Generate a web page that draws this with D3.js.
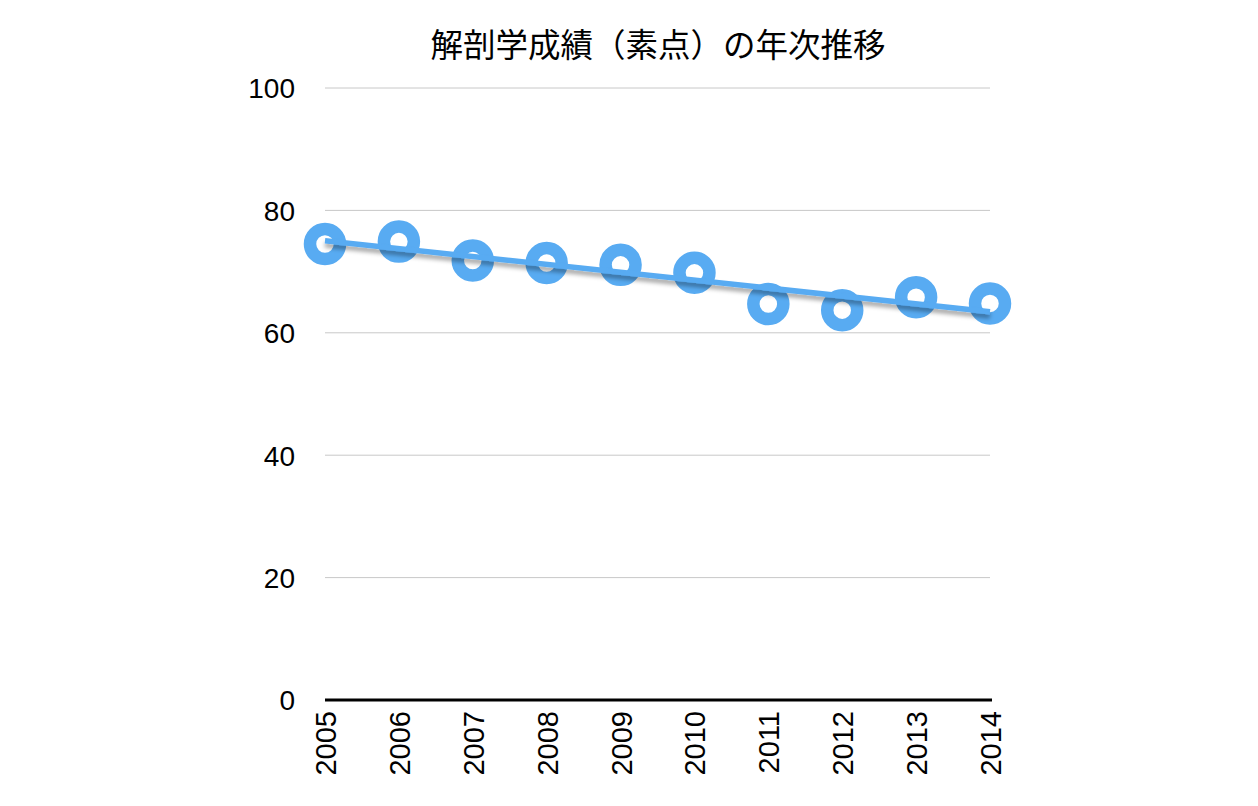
<!DOCTYPE html>
<html>
<head>
<meta charset="utf-8">
<script src="https://cdn.jsdelivr.net/npm/d3@7"></script>
<style>
  body { margin: 0; background: #fff; }
  svg text { fill: #000; }
</style>
</head>
<body>
<svg id="chart" width="1258" height="806"></svg>
<script>
// Data
const years = ["2005", "2006", "2007", "2008", "2009", "2010", "2011", "2012", "2013", "2014"];
const scores = [74.5, 74.9, 71.8, 71.4, 71.1, 69.8, 64.7, 63.7, 65.8, 64.8];
const yTicks = [0, 20, 40, 60, 80, 100];
const title = "解剖学成績（素点）の年次推移";

const svg = d3.select("#chart");
const blue = "#58abf2";

// Scales
const x = d3.scalePoint()
    .domain(years)
    .range([325, 990]);
const y = d3.scaleLinear()
    .domain([0, 100])
    .range([700, 88]);

// Shadow filter for the trendline
const defs = svg.append("defs");
const shadow = defs.append("filter")
    .attr("id", "shadow")
    .attr("x", "-10%").attr("y", "-50%")
    .attr("width", "120%").attr("height", "200%");
shadow.append("feDropShadow")
    .attr("dx", 0).attr("dy", 4)
    .attr("stdDeviation", 2)
    .attr("flood-color", "#000")
    .attr("flood-opacity", 0.35);

// Title
svg.append("text")
    .attr("x", 658)
    .attr("y", 42)
    .attr("text-anchor", "middle")
    .attr("dominant-baseline", "central")
    .style("font-family", "'Noto Sans CJK JP', sans-serif")
    .style("font-size", "32.5px")
    .text(title);

// Gridlines
svg.append("g")
    .selectAll("line")
    .data(yTicks.filter(d => d > 0))
    .enter()
    .append("line")
    .attr("x1", 325)
    .attr("x2", 990)
    .attr("y1", d => y(d))
    .attr("y2", d => y(d))
    .style("stroke", "#c8c8c8")
    .style("stroke-width", 1);

// Y axis labels
const yAxis = d3.axisLeft(y)
    .tickValues(yTicks)
    .tickSize(0)
    .tickPadding(0);
const yG = svg.append("g")
    .attr("transform", "translate(295,0)")
    .call(yAxis);
yG.select(".domain").remove();
yG.selectAll("text")
    .attr("dy", "0.35em")
    .style("font-family", "'Liberation Sans', Arial, sans-serif")
    .style("font-size", "28px")
    .style("fill", "#000");

// Baseline
svg.append("line")
    .attr("x1", 325)
    .attr("x2", 992)
    .attr("y1", y(0))
    .attr("y2", y(0))
    .style("stroke", "#000")
    .style("stroke-width", 3);

// X axis labels (rotated)
const xAxis = d3.axisBottom(x)
    .tickSize(0)
    .tickPadding(0);
const xG = svg.append("g")
    .attr("transform", `translate(0,${y(0)})`)
    .call(xAxis);
xG.select(".domain").remove();
xG.selectAll("text")
    .attr("transform", "rotate(-90)")
    .attr("x", -11)
    .attr("y", 0)
    .attr("dy", "0.36em")
    .attr("text-anchor", "end")
    .style("font-family", "'Liberation Sans', Arial, sans-serif")
    .style("font-size", "29px")
    .style("fill", "#000");

// Markers
svg.append("g")
    .selectAll("circle")
    .data(scores)
    .enter()
    .append("circle")
    .attr("cx", (d, i) => x(years[i]))
    .attr("cy", d => y(d))
    .attr("r", 15)
    .style("fill", "#fff")
    .style("stroke", blue)
    .style("stroke-width", 12.5);

// Linear trendline computed from the scores
const idx = d3.range(scores.length);
const mx = d3.mean(idx);
const my = d3.mean(scores);
const slope = d3.sum(idx, i => (i - mx) * (scores[i] - my)) / d3.sum(idx, i => (i - mx) * (i - mx));
const intercept = my - slope * mx;
const last = scores.length - 1;

svg.append("line")
    .attr("x1", x(years[0]))
    .attr("y1", y(intercept))
    .attr("x2", x(years[last]))
    .attr("y2", y(intercept + slope * last))
    .attr("filter", "url(#shadow)")
    .style("stroke", blue)
    .style("stroke-width", 5.5);
</script>
</body>
</html>
